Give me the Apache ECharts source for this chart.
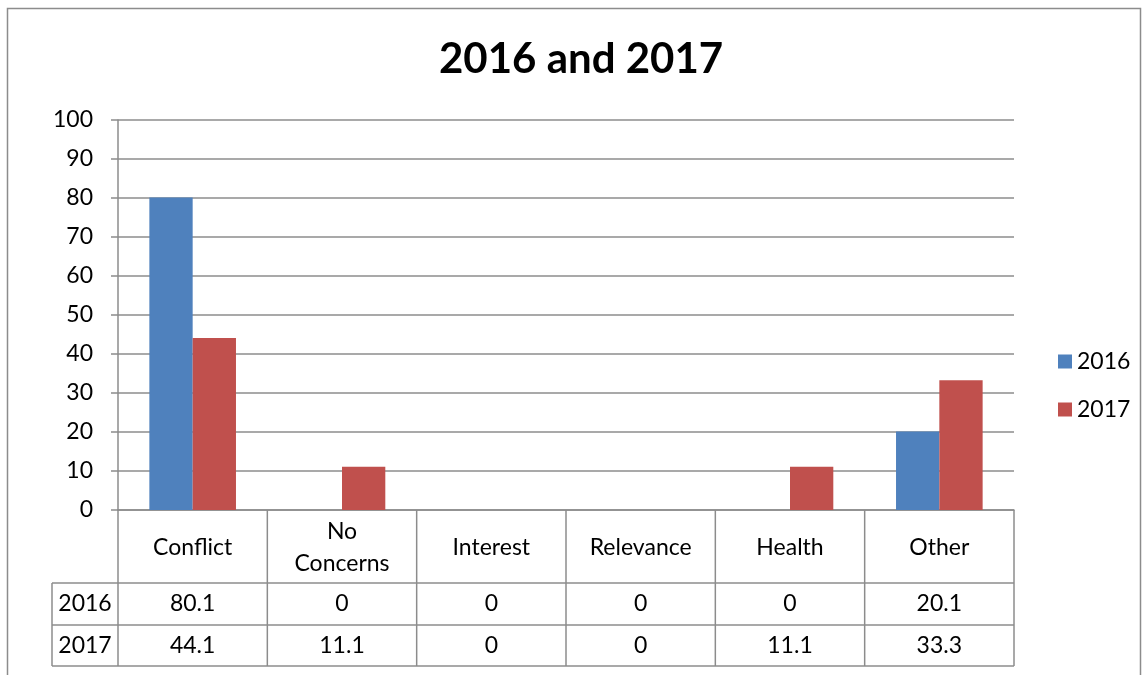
<!DOCTYPE html>
<html><head><meta charset="utf-8">
<script src="https://cdn.jsdelivr.net/npm/echarts@6/dist/echarts.min.js"></script>
<style>html,body{margin:0;padding:0;background:#fff}#c{width:1148px;height:675px}</style>
</head><body><div id="c"></div>
<script>
const categories = ['Conflict', 'No\nConcerns', 'Interest', 'Relevance', 'Health', 'Other'];
const seriesNames = ['2016', '2017'];
const values2016 = [80.1, 0, 0, 0, 0, 20.1];
const values2017 = [44.1, 11.1, 0, 0, 11.1, 33.3];
const yTicks = [0, 10, 20, 30, 40, 50, 60, 70, 80, 90, 100];

const FONT = 'Lato';
const FS = 23;
const lineC = '#8c8c8c';
const chart = echarts.init(document.getElementById('c'));
const G = {left: 118, right: 134, top: 120, bottom: 165};
const option = {
  animation: false,
  textStyle: {fontFamily: FONT},
  title: {text: '2016 and 2017', left: 439, top: 38, textStyle: {fontFamily: FONT, fontWeight: 'bold', fontSize: 42, color: '#000'}, padding: 0},
  legend: {orient: 'vertical', left: 1053, top: 345, itemWidth: 14, itemHeight: 14, itemGap: 25, icon: 'rect',
    textStyle: {fontSize: FS, color: '#000', fontFamily: FONT}, data: seriesNames},
  grid: G,
  xAxis: {type: 'category', data: categories,
    axisLine: {lineStyle: {color: lineC, width: 1.5}},
    axisTick: {show: false},
    axisLabel: {interval: 0, fontSize: FS, color: '#000', lineHeight: 32, margin: 38, verticalAlign: 'middle', fontFamily: FONT}},
  yAxis: {type: 'value', min: yTicks[0], max: yTicks[yTicks.length - 1], interval: 10,
    axisLine: {show: true, lineStyle: {color: lineC, width: 1.5}},
    axisTick: {show: true, length: 7, lineStyle: {color: lineC, width: 1.5}},
    splitLine: {lineStyle: {color: lineC, width: 1.5}},
    axisLabel: {fontSize: FS, color: '#000', margin: 25, fontFamily: FONT}},
  series: [
    {name: seriesNames[0], type: 'bar', data: values2016, itemStyle: {color: '#4F81BD'}, barGap: '0%', barCategoryGap: '42%'},
    {name: seriesNames[1], type: 'bar', data: values2017, itemStyle: {color: '#C0504D'}}
  ]
};
chart.setOption(option);

// Data table below the axis, positioned from the category axis scale
const y0 = chart.convertToPixel({yAxisIndex: 0}, 0);
const c0 = chart.convertToPixel({xAxisIndex: 0}, categories[0]);
const c1 = chart.convertToPixel({xAxisIndex: 0}, categories[1]);
const band = c1 - c0;
const bounds = [];
for (let i = 0; i <= categories.length; i++) bounds.push(c0 - band / 2 + i * band);
const rowTop = y0 + 73, r1 = rowTop + 42, r2 = r1 + 41;
const leftX = 52;
const els = [];
const ls = {stroke: lineC, lineWidth: 1.5};
function line(x1, y1, x2, y2) { els.push({type: 'line', shape: {x1, y1, x2, y2}, style: ls, silent: true}); }
bounds.forEach(b => line(b, y0, b, r2));
line(leftX, rowTop, leftX, r2);
[rowTop, r1, r2].forEach(y => line(leftX, y, bounds[bounds.length - 1], y));
const rows = [values2016, values2017];
const rowY = [(rowTop + r1) / 2, (r1 + r2) / 2];
rows.forEach((vals, ri) => {
  els.push({type: 'text', x: (leftX + bounds[0]) / 2, y: rowY[ri], style: {text: seriesNames[ri], fontSize: FS, fontFamily: FONT, fill: '#000', textAlign: 'center', textVerticalAlign: 'middle'}});
  vals.forEach((v, i) => {
    els.push({type: 'text', x: (bounds[i] + bounds[i + 1]) / 2, y: rowY[ri], style: {text: String(v), fontSize: FS, fontFamily: FONT, fill: '#000', textAlign: 'center', textVerticalAlign: 'middle'}});
  });
});
// outer chart border
els.push({type: 'rect', shape: {x: 7.5, y: 8.5, width: 1133, height: 720}, style: {fill: 'none', stroke: '#8c8c8c', lineWidth: 1.5}, silent: true});
chart.setOption({graphic: els});
</script></body></html>
